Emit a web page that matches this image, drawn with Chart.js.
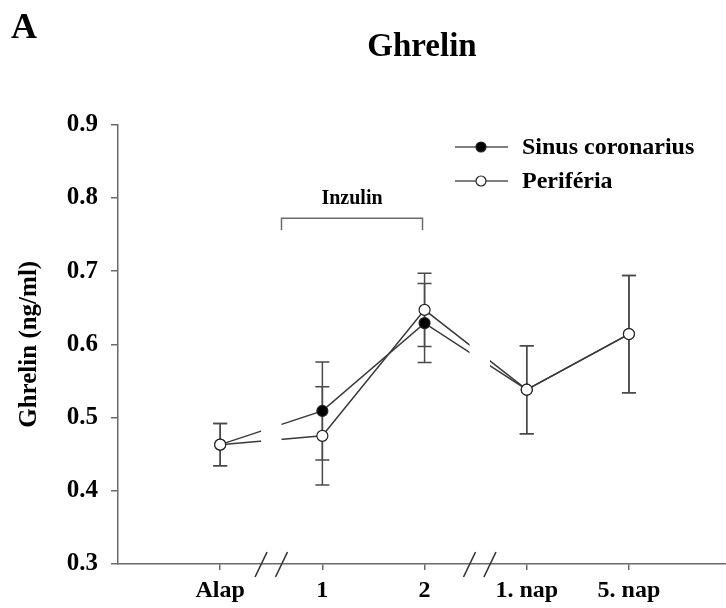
<!DOCTYPE html>
<html>
<head>
<meta charset="utf-8">
<script src="https://cdn.jsdelivr.net/npm/chart.js@4.4.0/dist/chart.umd.min.js"></script>
<style>
  body { margin: 0; background: #fff; }
  canvas { display: block; }
</style>
</head>
<body>
<canvas id="myChart" width="726" height="608"></canvas>
<script>
const categories = ["Alap", "1", "2", "1. nap", "5. nap"];
const sinusValues = [0.463, 0.509, 0.629, 0.538, 0.614];
const sinusErrors = [0.029, 0.067, 0.054, 0.06, 0.08];
const periferiaValues = [0.463, 0.475, 0.647, 0.538, 0.614];
const periferiaErrors = [0.029, 0.067, 0.05, 0.06, 0.08];
const seriesNames = ["Sinus coronarius", "Periféria"];
// x positions (in category units) where the axis is broken
const axisBreaks = [[0.4, 0.6], [2.44, 2.64]];
const insulinSpan = [0.6, 1.98];

const serif = "'Liberation Serif', 'Times New Roman', serif";
const lineGray = "#3a3a3a";
const axisGray = "#6a6a6a";

const toPoints = (vals) => vals.map((v, i) => ({ x: i, y: v }));

const extras = {
  id: "extras",
  beforeDatasetsDraw(chart) {
    const ctx = chart.ctx;
    const xs = chart.scales.x;
    const ys = chart.scales.y;
    // error bars
    ctx.save();
    ctx.strokeStyle = "#4a4a4a";
    ctx.lineWidth = 1.5;
    [[sinusValues, sinusErrors], [periferiaValues, periferiaErrors]].forEach(([vals, errs]) => {
      vals.forEach((v, i) => {
        const x = xs.getPixelForValue(i);
        const top = ys.getPixelForValue(v + errs[i]);
        const bot = ys.getPixelForValue(v - errs[i]);
        ctx.beginPath();
        ctx.moveTo(x, top);
        ctx.lineTo(x, bot);
        ctx.moveTo(x - 7, top);
        ctx.lineTo(x + 7, top);
        ctx.moveTo(x - 7, bot);
        ctx.lineTo(x + 7, bot);
        ctx.stroke();
      });
    });
    ctx.restore();
    // clip away the broken parts of the lines
    ctx.save();
    ctx.beginPath();
    let start = 0;
    axisBreaks.forEach(([a, b]) => {
      const pa = xs.getPixelForValue(a);
      ctx.rect(start, 0, pa - start, chart.height);
      start = xs.getPixelForValue(b);
    });
    ctx.rect(start, 0, chart.width - start, chart.height);
    ctx.clip();
  },
  afterDatasetsDraw(chart) {
    chart.ctx.restore();
  },
  afterDraw(chart) {
    const ctx = chart.ctx;
    const xs = chart.scales.x;
    const ys = chart.scales.y;
    const axisY = chart.chartArea.bottom;
    ctx.save();
    // axis break marks
    ctx.strokeStyle = "#333";
    ctx.lineWidth = 1.6;
    axisBreaks.forEach((br) => {
      br.forEach((v) => {
        const cx = xs.getPixelForValue(v);
        ctx.beginPath();
        ctx.moveTo(cx - 6, axisY + 13);
        ctx.lineTo(cx + 6, axisY - 12);
        ctx.stroke();
      });
    });
    // Inzulin bracket
    const bx1 = xs.getPixelForValue(insulinSpan[0]);
    const bx2 = xs.getPixelForValue(insulinSpan[1]);
    const by = ys.getPixelForValue(0.772);
    ctx.strokeStyle = axisGray;
    ctx.lineWidth = 1.5;
    ctx.beginPath();
    ctx.moveTo(bx1, by + 12);
    ctx.lineTo(bx1, by);
    ctx.lineTo(bx2, by);
    ctx.lineTo(bx2, by + 12);
    ctx.stroke();
    ctx.fillStyle = "#000";
    ctx.font = "bold 20px " + serif;
    ctx.textAlign = "center";
    ctx.textBaseline = "middle";
    ctx.fillText("Inzulin", (bx1 + bx2) / 2, by - 20);
    // panel letter
    ctx.font = "bold 36px " + serif;
    ctx.textAlign = "left";
    ctx.textBaseline = "alphabetic";
    ctx.fillText("A", 11, 38);
    // legend
    const rows = [147, 181];
    rows.forEach((ry, k) => {
      ctx.strokeStyle = "#555";
      ctx.lineWidth = 1.5;
      ctx.beginPath();
      ctx.moveTo(455, ry);
      ctx.lineTo(508, ry);
      ctx.stroke();
      ctx.beginPath();
      ctx.arc(481, ry, 5, 0, Math.PI * 2);
      ctx.fillStyle = k === 0 ? "#000" : "#fff";
      ctx.fill();
      ctx.strokeStyle = "#222";
      ctx.lineWidth = 1.2;
      ctx.stroke();
      ctx.fillStyle = "#000";
      ctx.font = "bold 24px " + serif;
      ctx.textBaseline = "middle";
      ctx.fillText(seriesNames[k], 522, ry + 1);
    });
    ctx.restore();
  },
};

const ctx = document.getElementById("myChart");
const myChart = new Chart(ctx, {
  type: "line",
  data: {
    datasets: [
      {
        label: seriesNames[0],
        data: toPoints(sinusValues),
        borderColor: lineGray,
        borderWidth: 1.5,
        pointRadius: 5.5,
        pointBackgroundColor: "#000",
        pointBorderColor: "#222",
        pointBorderWidth: 1.2,
        order: 1,
      },
      {
        label: seriesNames[1],
        data: toPoints(periferiaValues),
        borderColor: lineGray,
        borderWidth: 1.5,
        pointRadius: 5.5,
        pointBackgroundColor: "#fff",
        pointBorderColor: "#222",
        pointBorderWidth: 1.2,
        order: 0,
      },
    ],
  },
  options: {
    responsive: false,
    animation: false,
    layout: { padding: 0, autoPadding: false },
    plugins: {
      legend: { display: false },
      tooltip: { enabled: false },
      title: {
        display: true,
        text: "Ghrelin",
        color: "#000",
        fullSize: false,
        font: { family: serif, size: 33, weight: "bold" },
        padding: { top: 28, bottom: 57 },
      },
    },
    scales: {
      x: {
        type: "linear",
        min: -1,
        max: 4.95,
        afterFit: (scale) => {
          scale.height = 44;
          scale.paddingLeft = 0;
          scale.paddingRight = 0;
        },
        afterBuildTicks: (scale) => {
          scale.ticks = categories.map((c, i) => ({ value: i }));
        },
        ticks: {
          color: "#000",
          padding: 6,
          font: { family: serif, size: 24, weight: "bold" },
          callback: (v) => categories[v] ?? "",
        },
        grid: { drawOnChartArea: false, drawTicks: true, tickLength: 6, color: axisGray, lineWidth: 1.5 },
        border: { color: axisGray, width: 1.5 },
      },
      y: {
        min: 0.3,
        max: 0.9,
        afterFit: (scale) => { scale.width = 118; },
        ticks: {
          stepSize: 0.1,
          color: "#000",
          padding: 13,
          font: { family: serif, size: 25, weight: "bold" },
          callback: (v) => v.toFixed(1),
        },
        title: {
          display: true,
          text: "Ghrelin (ng/ml)",
          color: "#000",
          font: { family: serif, size: 25, weight: "bold" },
          padding: { top: 15, bottom: 0 },
        },
        grid: { drawOnChartArea: false, drawTicks: true, tickLength: 7, color: axisGray, lineWidth: 1.5 },
        border: { color: axisGray, width: 1.5 },
      },
    },
  },
  plugins: [extras],
});
</script>
</body>
</html>
